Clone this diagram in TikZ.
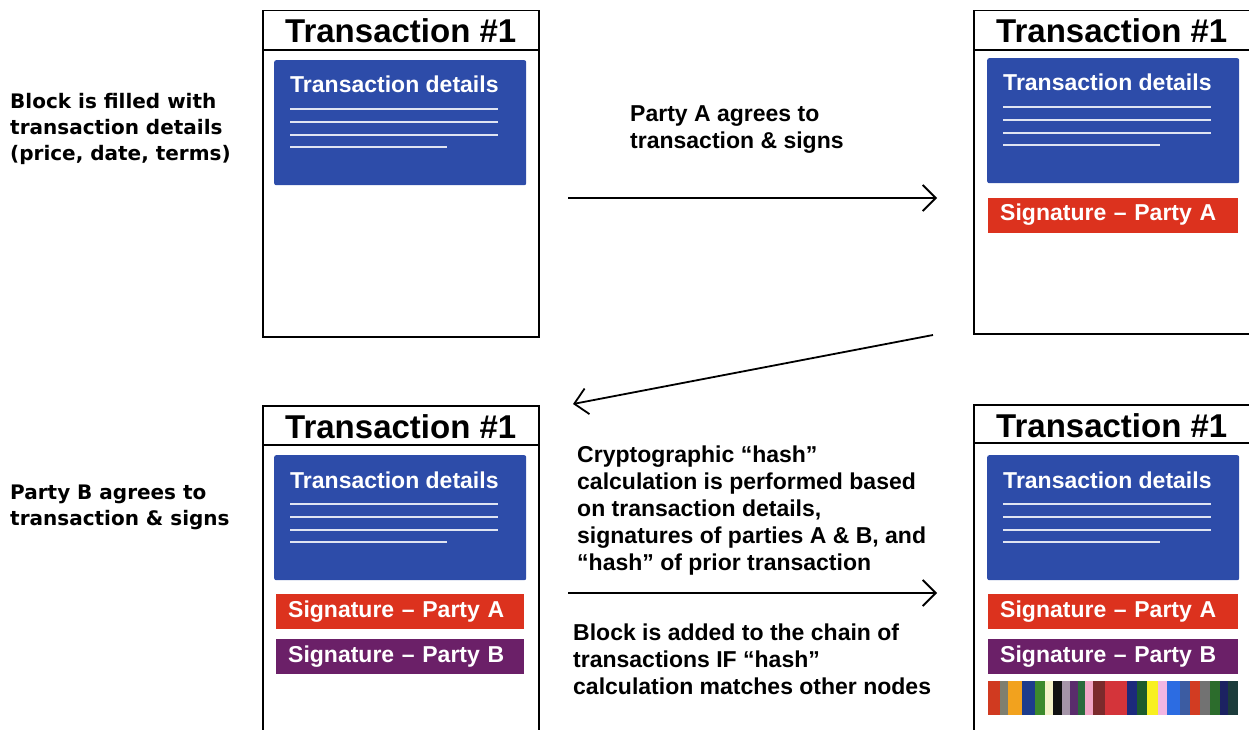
\documentclass[tikz,border=0pt]{standalone}
\usepackage{fontspec}
\setmainfont{Liberation Sans}
\newfontfamily\notefont{DejaVu Sans}
\usetikzlibrary{arrows.meta, positioning}

\definecolor{detailblue}{HTML}{2D4CA9}
\definecolor{sigred}{HTML}{DC321E}
\definecolor{sigpurple}{HTML}{6B2068}
% hash stripes
\definecolor{h01}{HTML}{D03A20}
\definecolor{h02}{HTML}{7F7F6F}
\definecolor{h03}{HTML}{F2A21E}
\definecolor{h04}{HTML}{1D3C8C}
\definecolor{h05}{HTML}{3C8A2C}
\definecolor{h06}{HTML}{F4F2C8}
\definecolor{h07}{HTML}{111111}
\definecolor{h08}{HTML}{A595A8}
\definecolor{h09}{HTML}{5A2C6C}
\definecolor{h10}{HTML}{2A6A3C}
\definecolor{h11}{HTML}{F2A6C6}
\definecolor{h12}{HTML}{7C2A2C}
\definecolor{h13}{HTML}{D4343A}
\definecolor{h14}{HTML}{1C2A7C}
\definecolor{h15}{HTML}{1C5C2C}
\definecolor{h16}{HTML}{F8F020}
\definecolor{h17}{HTML}{F2B6E2}
\definecolor{h18}{HTML}{2C6CE2}
\definecolor{h19}{HTML}{3C5CA2}
\definecolor{h20}{HTML}{D23C22}
\definecolor{h21}{HTML}{727272}
\definecolor{h22}{HTML}{2C6C2C}
\definecolor{h23}{HTML}{1C2262}
\definecolor{h24}{HTML}{1C3C3C}

\begin{document}
\begin{tikzpicture}[x=1pt, y=-1pt,
  frame/.style={draw, line width=1.5pt, anchor=north west, minimum width=276pt, inner sep=0pt},
  title/.style={anchor=base, inner sep=0pt, font=\bfseries\fontsize{33}{38}\selectfont},
  details/.style={fill=detailblue, rounded corners=2pt, anchor=north west, minimum width=252pt, minimum height=125pt, inner sep=0pt},
  detailtext/.style={anchor=base west, text=white, inner sep=0pt, font=\bfseries\fontsize{23}{27}\selectfont},
  detailline/.style={draw=white!85!detailblue, line width=2pt},
  sig/.style={text=white, minimum height=35pt, text width=226pt, inner xsep=12pt, inner ysep=0pt, align=left, font=\bfseries\fontsize{23}{27}\selectfont},
  note/.style={anchor=base west, align=left, inner sep=0pt, font=\notefont\bfseries\fontsize{20}{26}\selectfont},
  remark/.style={anchor=base west, align=left, inner sep=0pt, font=\bfseries\fontsize{23}{27}\selectfont},
  flow/.style={line width=1.8pt, -{Straight Barb[length=13pt, width=26pt, line width=1.8pt]}}]

  \useasboundingbox (0,0) rectangle (1249,730);
  \clip (0,0) rectangle (1249,730);

  % Blocks
  \node[frame, minimum height=326pt] (blk1) at (262,10) {};
  \node[frame, minimum height=323pt] (blk2) at (973,10) {};
  \node[frame, minimum height=340pt] (blk3) at (262,405) {};
  \node[frame, minimum height=341pt] (blk4) at (973,404) {};

  % Headers
  \draw[line width=1.5pt] ([yshift=-40pt]blk1.north west) -- ([yshift=-40pt]blk1.north east);
  \draw[line width=1.5pt] ([yshift=-40pt]blk2.north west) -- ([yshift=-40pt]blk2.north east);
  \draw[line width=1.5pt] ([yshift=-40pt]blk3.north west) -- ([yshift=-40pt]blk3.north east);
  \draw[line width=1.5pt] ([yshift=-39pt]blk4.north west) -- ([yshift=-39pt]blk4.north east);

  \node[title] (ttl1) at ([yshift=-33pt]blk1.north) {Transaction \#1};
  \node[title] (ttl2) at ([yshift=-33pt]blk2.north) {Transaction \#1};
  \node[title] (ttl3) at ([yshift=-33pt]blk3.north) {Transaction \#1};
  \node[title] (ttl4) at ([yshift=-33pt]blk4.north) {Transaction \#1};

  % Transaction details
  \node[details] (det1) at ([xshift=12pt, yshift=-50pt]blk1.north west) {};
  \node[details] (det2) at ([xshift=14pt, yshift=-48pt]blk2.north west) {};
  \node[details] (det3) at ([xshift=12pt, yshift=-50pt]blk3.north west) {};
  \node[details] (det4) at ([xshift=14pt, yshift=-51pt]blk4.north west) {};

  \foreach \d in {det1, det2, det3, det4} {
    \node[detailtext] at ([xshift=16pt, yshift=-33pt]\d.north west) {Transaction details};
    \foreach \dy/\len in {49/208, 62/208, 75/208, 87/157}
      \draw[detailline] ([xshift=16pt, yshift=-\dy pt]\d.north west) -- ++(\len,0);
  }

  % Signatures
  \node[sig, fill=sigred, below=14pt of det2.south west, anchor=north west, xshift=1pt] (sig2a) {Signature -- Party A};
  \node[sig, fill=sigred, below=13pt of det3.south west, anchor=north west, xshift=2pt, text width=224pt] (sig3a) {Signature -- Party A};
  \node[sig, fill=sigpurple, below=10pt of sig3a.south west, anchor=north west, text width=224pt] (sig3b) {Signature -- Party B};
  \node[sig, fill=sigred, below=13pt of det4.south west, anchor=north west, xshift=1pt] (sig4a) {Signature -- Party A};
  \node[sig, fill=sigpurple, below=10pt of sig4a.south west, anchor=north west] (sig4b) {Signature -- Party B};

  % Hash
  \begin{scope}[shift={(988,681)}]
    \foreach \a/\b/\c in {0/12/h01, 12/20/h02, 20/34/h03, 34/47/h04, 47/57/h05, 57/65/h06,
                          65/74/h07, 74/82/h08, 82/90/h09, 90/97/h10, 97/105/h11, 105/117/h12,
                          117/139/h13, 139/149/h14, 149/159/h15, 159/170/h16, 170/179/h17, 179/192/h18,
                          192/202/h19, 202/212/h20, 212/222/h21, 222/232/h22, 232/240/h23, 240/250/h24}
      \fill[\c] (\a,0) rectangle (\b,34);
  \end{scope}

  % Notes (anchored at the baseline of the last line)
  \node[note] (fill) at (10,161) {Block is filled with\\transaction details\\(price, date, terms)};
  \node[note] (signB) at (10,525) {Party B agrees to\\transaction \& signs};
  \node[remark] (signA) at (630,149) {Party A agrees to\\transaction \& signs};
  \node[remark] (hash) at (577,570) {Cryptographic “hash”\\calculation is performed based\\on transaction details,\\signatures of parties A \& B, and\\“hash” of prior transaction};
  \node[remark] (added) at (573,694) {Block is added to the chain of\\transactions IF “hash”\\calculation matches other nodes};

  % Arrows
  \coordinate (a1from) at (568,198);
  \coordinate (a1to) at (937,198);
  \coordinate (a2from) at (933,335);
  \coordinate (a2to) at (573,404);
  \coordinate (a3from) at (568,593);
  \coordinate (a3to) at (937,593);

  \draw[flow] (a1from) -- (a1to);
  \draw[flow] (a2from) -- (a2to);
  \draw[flow] (a3from) -- (a3to);
\end{tikzpicture}
\end{document}
